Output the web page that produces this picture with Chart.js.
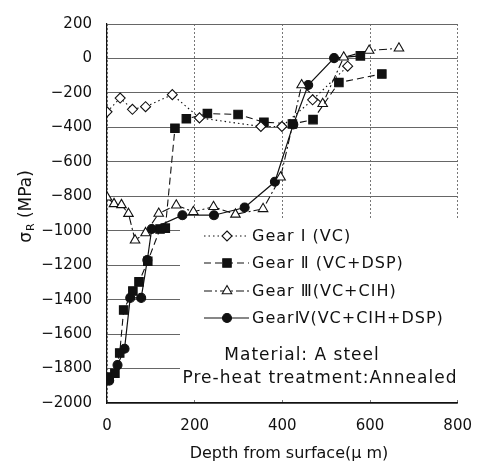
<!DOCTYPE html>
<html><head><meta charset="utf-8">
<script src="https://cdn.jsdelivr.net/npm/chart.js@4.4.0/dist/chart.umd.min.js"></script>
<style>html,body{margin:0;padding:0;background:#fff}#wrap{width:486px;height:469px;position:relative}</style>
</head><body><div id="wrap"><canvas id="c"></canvas></div>
<script>
// ---- data ----
const seriesNames = ['Gear Ⅰ (VC)', 'Gear Ⅱ (VC+DSP)', 'Gear Ⅲ(VC+CIH)', 'GearⅣ(VC+CIH+DSP)'];
const depthI   = [0, 30, 58, 88, 149, 211, 351, 399, 469, 549];
const stressI  = [-310, -230, -295, -280, -210, -345, -395, -395, -240, -45];
const depthII  = [5, 18, 29, 38, 59, 73, 93, 121, 133, 155, 181, 229, 299, 358, 423, 470, 529, 627];
const stressII = [-1850, -1827, -1710, -1460, -1350, -1297, -1177, -990, -985, -405, -350, -320, -325, -370, -380, -355, -140, -90];
const depthIII  = [0, 16, 33, 49, 64, 88, 118, 158, 197, 243, 293, 356, 396, 444, 492, 540, 598, 666];
const stressIII = [-806, -844, -850, -901, -1055, -1013, -900, -852, -890, -861, -905, -873, -690, -154, -263, 7, 46, 59];
const depthIV  = [5, 24, 40, 53, 78, 92, 102, 172, 244, 314, 383, 425, 459, 518, 578];
const stressIV = [-1870, -1780, -1685, -1390, -1390, -1170, -990, -910, -910, -865, -716, -383, -154, 2, 15];
const xTicks = [0, 200, 400, 600, 800];
const yTicks = [200, 0, -200, -400, -600, -800, -1000, -1200, -1400, -1600, -1800, -2000];
const noteLines = ['Material: A steel', 'Pre-heat treatment:Annealed'];

const FONT = "'DejaVu Sans', 'Noto Sans CJK JP', sans-serif";
const pts = (xs, ys) => xs.map((x, i) => ({x: x, y: ys[i]}));

const datasets = [
  {label: seriesNames[0], data: pts(depthI, stressI), pointStyle: 'rectRot', pointRadius: 5,
   backgroundColor: '#fff', borderColor: '#111', borderWidth: 1.1, borderDash: [1.5, 3]},
  {label: seriesNames[1], data: pts(depthII, stressII), pointStyle: 'rect', pointRadius: 6,
   backgroundColor: '#111', borderColor: '#111', borderWidth: 1.1, borderDash: [7, 4]},
  {label: seriesNames[2], data: pts(depthIII, stressIII), pointStyle: 'triangle', pointRadius: 5.5,
   backgroundColor: '#fff', borderColor: '#111', borderWidth: 1.1, borderDash: [8, 3, 2, 3]},
  {label: seriesNames[3], data: pts(depthIV, stressIV),
   pointStyle: ctx => ctx.dataIndex === depthIV.length - 1 ? 'rect' : 'circle',
   pointRadius: ctx => ctx.dataIndex === depthIV.length - 1 ? 6 : 4.5,
   backgroundColor: '#111', borderColor: '#111', borderWidth: 1.2, borderDash: []}
].map(d => Object.assign(d, {showLine: true, fill: false, tension: 0,
   pointBorderColor: '#111', pointBackgroundColor: d.backgroundColor, pointBorderWidth: 1.1}));

function drawMarker(ctx, style, r, x, y, fill) {
  ctx.save();
  ctx.setLineDash([]);
  ctx.fillStyle = fill; ctx.strokeStyle = '#111'; ctx.lineWidth = 1.1;
  ctx.beginPath();
  if (style === 'circle') ctx.arc(x, y, r, 0, Math.PI * 2);
  else if (style === 'rect') { const s = r * Math.SQRT1_2; ctx.rect(x - s, y - s, 2 * s, 2 * s); }
  else if (style === 'rectRot') { ctx.moveTo(x, y - r); ctx.lineTo(x + r, y); ctx.lineTo(x, y + r); ctx.lineTo(x - r, y); ctx.closePath(); }
  else if (style === 'triangle') { const w = r * Math.sqrt(3) / 2; ctx.moveTo(x, y - r); ctx.lineTo(x + w, y + r / 2); ctx.lineTo(x - w, y + r / 2); ctx.closePath(); }
  ctx.fill(); ctx.stroke();
  ctx.restore();
}

const overlay = {
  id: 'overlay',
  beforeDatasetsDraw(chart) {
    const ctx = chart.ctx;
    ctx.save();
    ctx.fillStyle = '#fff';
    ctx.fillRect(180, 220, 279, 178);
    ctx.restore();
  },
  afterDraw(chart) {
    const ctx = chart.ctx;
    ctx.save();
    // legend
    const rows = [236, 263, 291, 318];
    const styles = ['rectRot', 'rect', 'triangle', 'circle'];
    const radii = [5, 6, 5.5, 4.5];
    const fills = ['#fff', '#111', '#fff', '#111'];
    chart.data.datasets.forEach((ds, i) => {
      const y = rows[i];
      ctx.save();
      ctx.strokeStyle = '#111'; ctx.lineWidth = ds.borderWidth;
      ctx.setLineDash(ds.borderDash);
      ctx.beginPath(); ctx.moveTo(204, y); ctx.lineTo(249, y); ctx.stroke();
      ctx.restore();
      drawMarker(ctx, styles[i], radii[i], 227, y, fills[i]);
      ctx.fillStyle = '#111';
      ctx.font = '16px ' + FONT;
      ctx.letterSpacing = '1px';
      ctx.textAlign = 'left'; ctx.textBaseline = 'middle';
      ctx.fillText(ds.label, 252, y + 1);
    });
    // notes
    ctx.font = '17px ' + FONT;
    ctx.letterSpacing = '1px';
    ctx.textAlign = 'center'; ctx.textBaseline = 'middle';
    ctx.fillText(noteLines[0], 302, 356);
    ctx.fillText(noteLines[1], 320, 379);
    ctx.letterSpacing = '0px';
    // x title
    ctx.font = '16px ' + FONT;
    ctx.fillText('Depth from surface(μ m)', 289, 454);
    // y title, rotated, with subscript
    ctx.translate(25, 207);
    ctx.rotate(-Math.PI / 2);
    ctx.textAlign = 'left'; ctx.textBaseline = 'alphabetic';
    const fBig = '17px ' + FONT, fSub = '11px ' + FONT;
    ctx.font = fBig; const w1 = ctx.measureText('σ').width;
    ctx.font = fSub; const w2 = ctx.measureText('R').width;
    ctx.font = fBig; const w3 = ctx.measureText(' (MPa)').width;
    let x0 = -(w1 + w2 + w3) / 2;
    ctx.font = fBig; ctx.fillText('σ', x0, 6);
    ctx.font = fSub; ctx.fillText('R', x0 + w1 + 1, 9);
    ctx.font = fBig; ctx.fillText(' (MPa)', x0 + w1 + w2 + 1, 6);
    ctx.restore();
  }
};

new Chart(document.getElementById('c'), {
  type: 'scatter',
  data: {datasets: datasets},
  options: {
    responsive: true, maintainAspectRatio: false, animation: false,
    layout: {padding: {top: 18, right: 19, left: 0, bottom: 0}},
    plugins: {legend: {display: false}, tooltip: {enabled: false}},
    scales: {
      x: {
        type: 'linear', min: 0, max: 800,
        afterBuildTicks: s => { s.ticks = xTicks.map(v => ({value: v})); },
        afterFit: s => { s.height = 66; },
        ticks: {font: {family: FONT, size: 15}, color: '#111', padding: 14, maxRotation: 0},
        grid: {color: '#777', lineWidth: 1, drawTicks: false},
        border: {display: true, color: '#111', width: 1.2, dash: [2, 2]}
      },
      y: {
        type: 'linear', min: -2000, max: 200,
        afterBuildTicks: s => { s.ticks = yTicks.map(v => ({value: v})); },
        afterFit: s => { s.width = 107; },
        ticks: {font: {family: FONT, size: 15}, color: '#111', padding: 15,
                callback: v => String(v).replace('-', '−')},
        grid: {color: '#666', lineWidth: 1, drawTicks: false},
        border: {display: true, color: '#111', width: 1.2}
      }
    }
  },
  plugins: [overlay]
});
</script>
</body></html>
